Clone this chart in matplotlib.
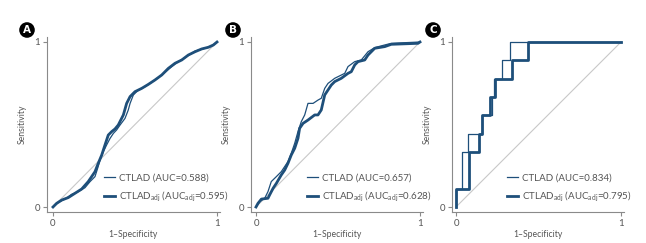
import numpy as np
import matplotlib
matplotlib.use("Agg")
import matplotlib.pyplot as plt

plt.rcParams['font.family'] = ['Lato', 'DejaVu Sans']
plt.rcParams['mathtext.fontset'] = 'custom'
plt.rcParams['mathtext.rm'] = 'Lato'
plt.rcParams['mathtext.it'] = 'Lato'

# ROC curves (1-specificity, sensitivity)
a_fpr = [0, 0.033, 0.073, 0.114, 0.154, 0.195, 0.226, 0.256, 0.272, 0.287, 0.307,
         0.327, 0.348, 0.368, 0.388, 0.409, 0.439, 0.459, 0.470, 0.490, 0.520,
         0.561, 0.602, 0.642, 0.683, 0.724, 0.764, 0.805, 0.866, 0.927, 0.967, 1]
a_tpr = [0, 0.028, 0.048, 0.077, 0.093, 0.117, 0.154, 0.184, 0.234, 0.285, 0.335,
         0.376, 0.416, 0.446, 0.467, 0.497, 0.537, 0.588, 0.628, 0.679, 0.709,
         0.729, 0.756, 0.784, 0.816, 0.851, 0.881, 0.905, 0.945, 0.962, 0.976, 1]
a_adj_fpr = [0, 0.022, 0.053, 0.093, 0.134, 0.175, 0.215, 0.256, 0.276, 0.297, 0.317,
             0.337, 0.358, 0.378, 0.398, 0.429, 0.449, 0.470, 0.500, 0.541, 0.581,
             0.622, 0.663, 0.703, 0.744, 0.785, 0.825, 0.866, 0.907, 0.947, 0.978, 1]
a_adj_tpr = [0, 0.022, 0.042, 0.057, 0.083, 0.109, 0.154, 0.214, 0.265, 0.315, 0.376,
             0.436, 0.457, 0.473, 0.497, 0.558, 0.628, 0.669, 0.699, 0.719, 0.743,
             0.770, 0.800, 0.840, 0.871, 0.891, 0.921, 0.941, 0.958, 0.968, 0.982, 1]

b_fpr = [0, 0.022, 0.053, 0.073, 0.093, 0.124, 0.154, 0.195, 0.215, 0.236, 0.256,
         0.276, 0.297, 0.317, 0.348, 0.378, 0.398, 0.419, 0.439, 0.480, 0.541,
         0.561, 0.602, 0.642, 0.683, 0.724, 0.785, 0.825, 1]
b_tpr = [0, 0.032, 0.053, 0.093, 0.154, 0.184, 0.214, 0.275, 0.325, 0.386, 0.457,
         0.517, 0.558, 0.628, 0.628, 0.648, 0.659, 0.719, 0.749, 0.780, 0.810,
         0.851, 0.881, 0.891, 0.941, 0.966, 0.982, 0.992, 1]
b_adj_fpr = [0, 0.012, 0.033, 0.073, 0.083, 0.104, 0.124, 0.154, 0.175, 0.195, 0.215,
             0.236, 0.256, 0.266, 0.287, 0.317, 0.358, 0.378, 0.398, 0.419, 0.439,
             0.459, 0.480, 0.520, 0.561, 0.581, 0.602, 0.622, 0.663, 0.683, 0.724,
             0.785, 0.825, 0.988, 1]
b_adj_tpr = [0, 0.022, 0.048, 0.053, 0.073, 0.113, 0.143, 0.194, 0.224, 0.265, 0.315,
             0.356, 0.416, 0.477, 0.507, 0.527, 0.558, 0.558, 0.588, 0.679, 0.709,
             0.739, 0.760, 0.780, 0.810, 0.820, 0.861, 0.881, 0.891, 0.921, 0.962,
             0.972, 0.986, 0.992, 1]

c_tpr_levels = [0, 1/9, 1/9, 3/9, 3/9, 4/9, 4/9, 5/9, 5/9, 6/9, 6/9, 7/9, 7/9,
                8/9, 8/9, 1, 1]
c_fpr = [0, 0, 0.034, 0.034, 0.075, 0.075, 0.160, 0.160, 0.216, 0.216, 0.230,
         0.230, 0.277, 0.277, 0.327, 0.327, 1]
c_adj_fpr = [0, 0, 0.079, 0.079, 0.141, 0.141, 0.160, 0.160, 0.206, 0.206, 0.236,
             0.236, 0.337, 0.337, 0.434, 0.434, 1]

panels = ["A", "B", "C"]
auc = [0.588, 0.657, 0.834]
auc_adj = [0.595, 0.628, 0.795]
curves = [(a_fpr, a_tpr, a_adj_fpr, a_adj_tpr),
          (b_fpr, b_tpr, b_adj_fpr, b_adj_tpr),
          (c_fpr, c_tpr_levels, c_adj_fpr, c_tpr_levels)]

W, H = 646, 243
navy = "#1e4f7a"
grey = "#555555"
spine = "#8a8a8a"

fig = plt.figure(figsize=(W / 100, H / 100), dpi=100)

# pixel geometry: (left spine, x=0, x=1, right end)
geo = [(47, 53, 217, 220), (251, 256, 420, 423), (452, 456, 621, 624)]
letter_x = [27, 233, 433]
ytop, ybot, y1, y0 = 37, 212, 42, 207

for i, p in enumerate(panels):
    l, x0, x1, r = geo[i]
    ax = fig.add_axes([l / W, (H - ybot) / H, (r - l) / W, (ybot - ytop) / H])
    sx = x1 - x0
    sy = y0 - y1
    ax.set_xlim(-(x0 - l) / sx, 1 + (r - x1) / sx)
    ax.set_ylim(-(ybot - y0) / sy, 1 + (y1 - ytop) / sy)

    ax.plot([0, 1], [0, 1], color="#c8c8c8", lw=0.8, zorder=1)
    fpr, tpr, fpr2, tpr2 = curves[i]
    ax.plot(fpr, tpr, color=navy, lw=0.9, zorder=3,
            label="CTLAD (AUC=%.3f)" % auc[i])
    ax.plot(fpr2, tpr2, color=navy, lw=2.0, zorder=2,
            label=r"CTLAD$_{\mathrm{adj}}$ (AUC$_{\mathrm{adj}}$=%.3f)" % auc_adj[i])

    for s in ["top", "right"]:
        ax.spines[s].set_visible(False)
    for s in ["left", "bottom"]:
        ax.spines[s].set_color(spine)
        ax.spines[s].set_linewidth(0.8)
    ax.set_xticks([0, 1])
    ax.set_yticks([0, 1])
    ax.set_xticklabels(["0", "1"])
    ax.set_yticklabels(["0", "1"])
    ax.tick_params(colors=spine, labelcolor=grey, labelsize=7, length=3,
                   width=0.8, pad=2)
    ax.set_xlabel("1\u2013Specificity", color=grey, fontsize=6.2, labelpad=1.5)
    ax.set_ylabel("Sensitivity", color=grey, fontsize=6.2, labelpad=5.5)

    leg = ax.legend(loc="lower left", bbox_to_anchor=((x0 + 51 - l) / (r - l), 0.045),
                    frameon=False, fontsize=7, handlelength=1.1,
                    handletextpad=0.4, labelspacing=0.75, borderpad=0,
                    borderaxespad=0)
    for t in leg.get_texts():
        t.set_color(grey)

    fig.text(letter_x[i] / W, (H - 30) / H, p, ha="center", va="center",
             color="white", fontsize=7.5, fontweight="bold", family="DejaVu Sans",
             bbox=dict(boxstyle="circle,pad=0.2", fc="black", ec="black"))

fig.savefig("out.png", dpi=100)
